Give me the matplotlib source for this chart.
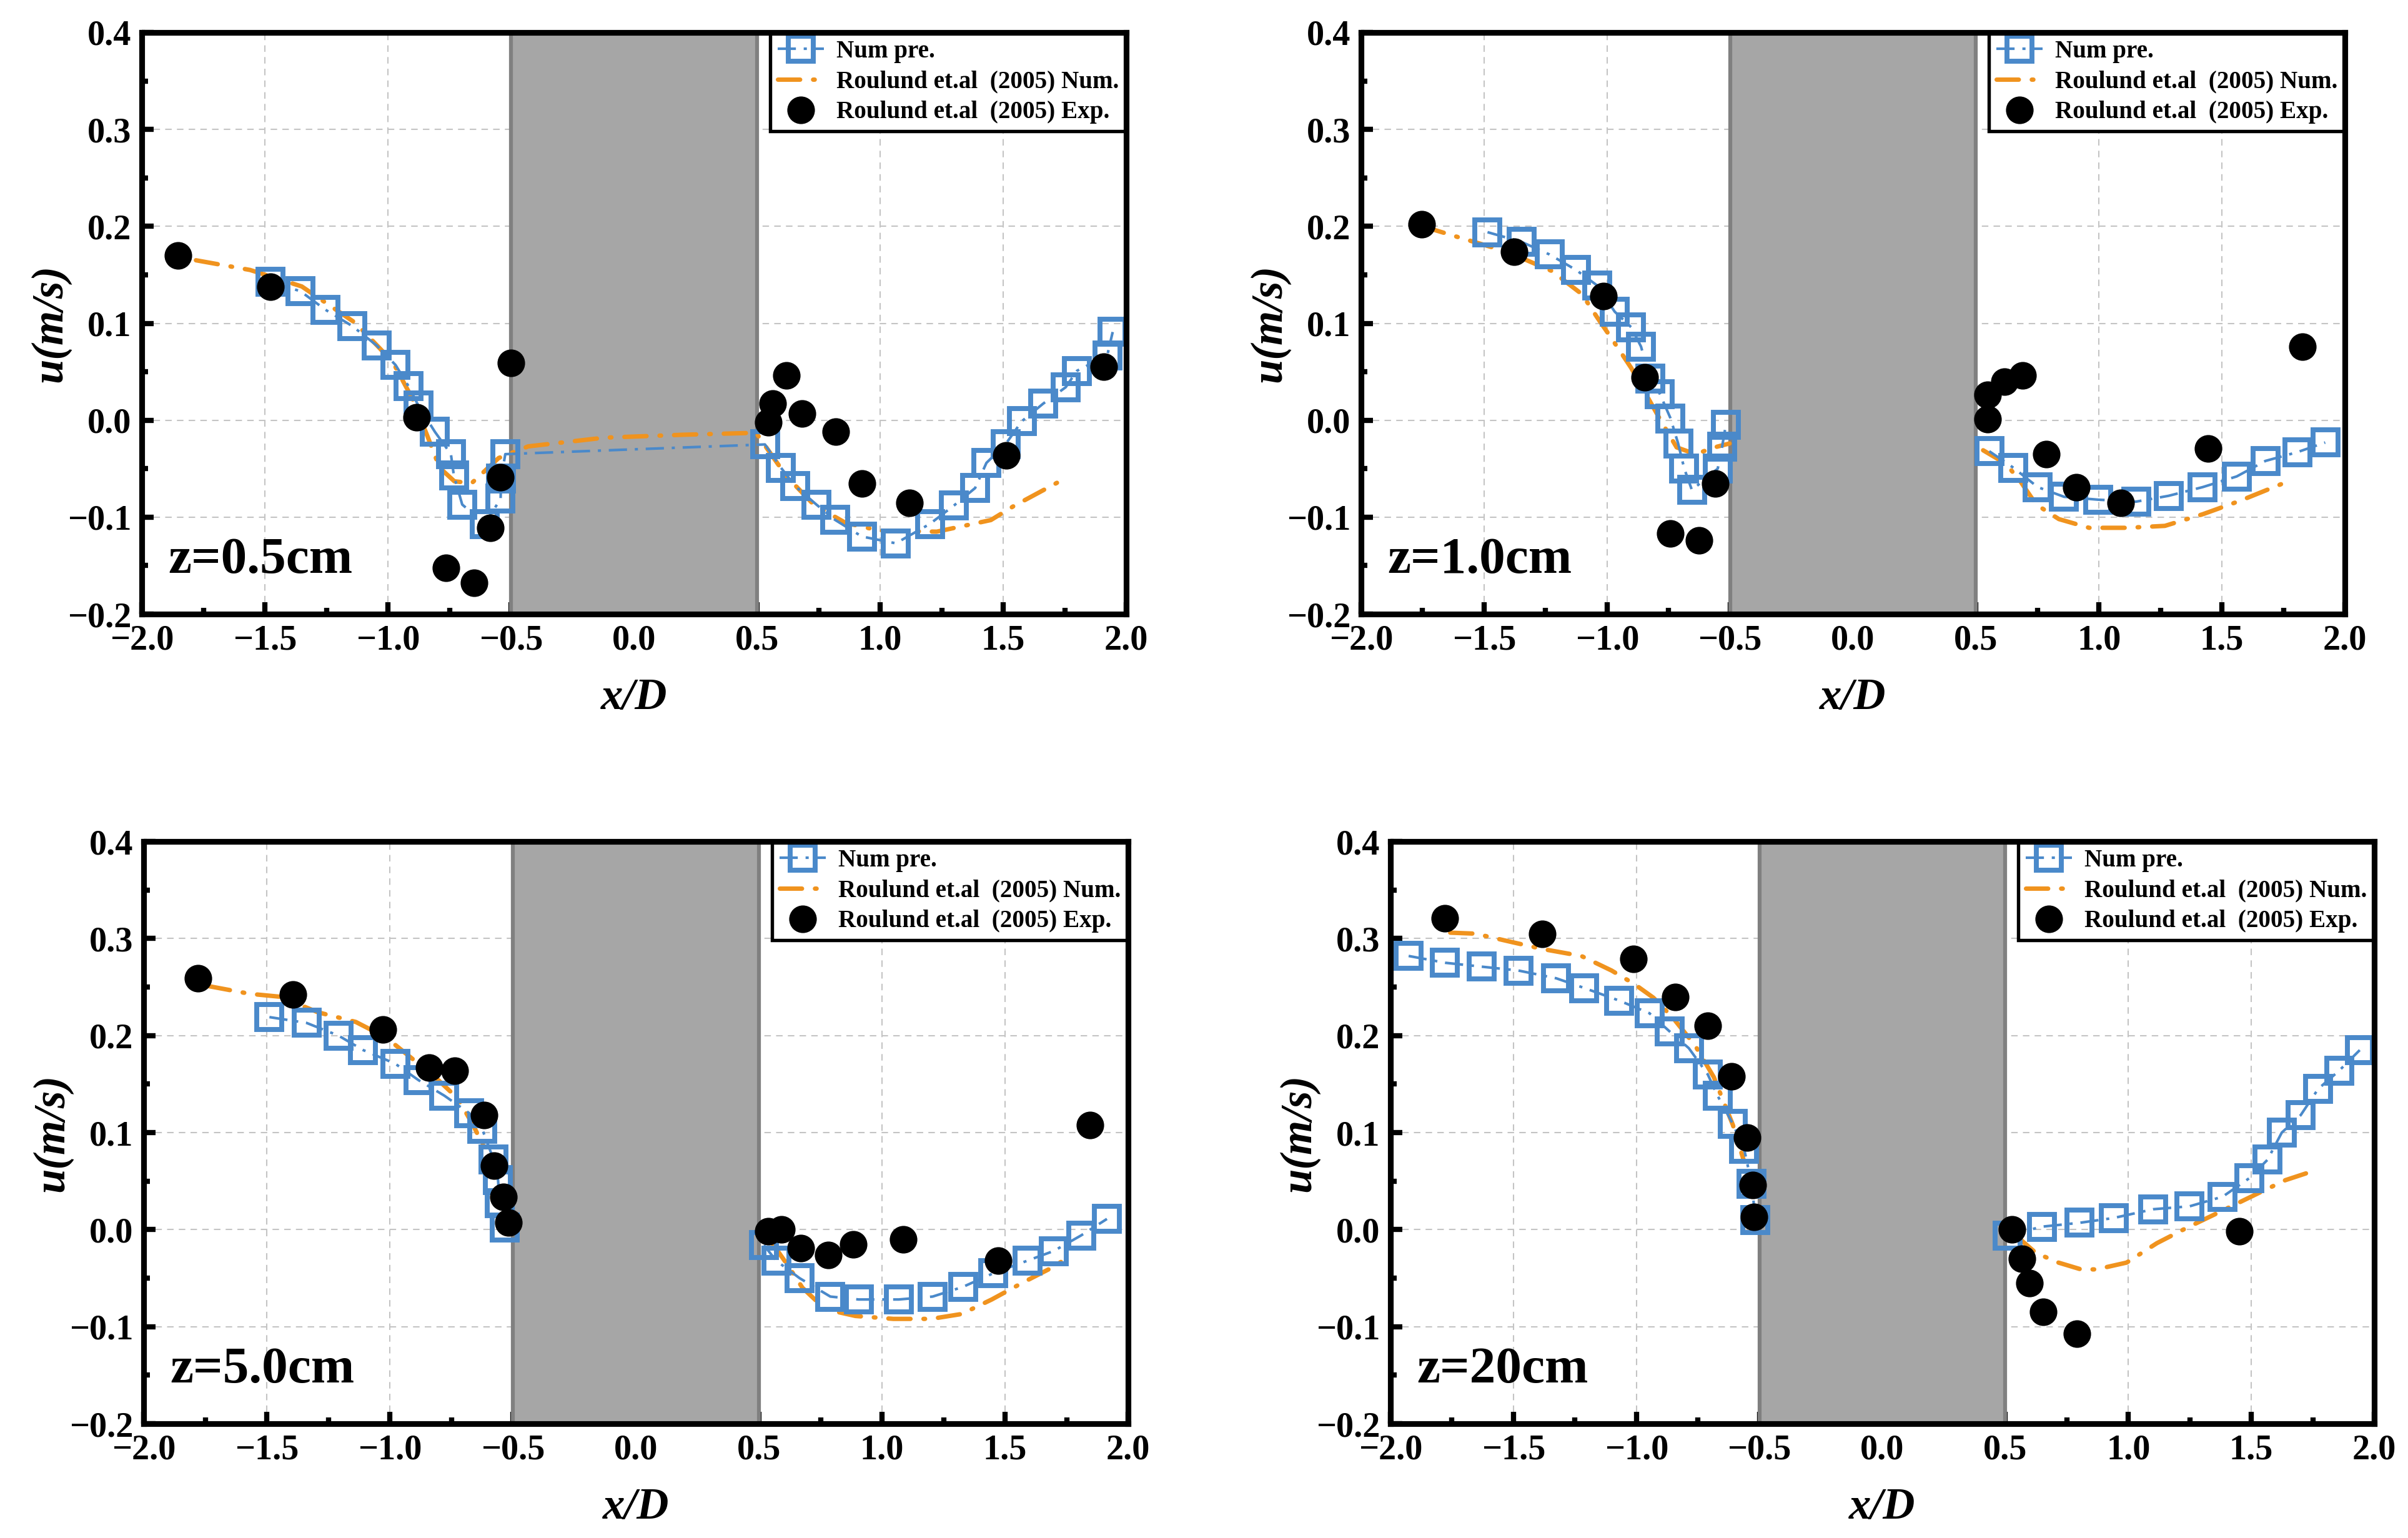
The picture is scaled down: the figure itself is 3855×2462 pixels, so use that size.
import numpy as np
import matplotlib
matplotlib.use("Agg")
import matplotlib.pyplot as plt
from matplotlib.patches import Rectangle
from matplotlib.font_manager import FontProperties

plt.rcParams['font.family'] = ['Liberation Serif', 'DejaVu Serif']
plt.rcParams['font.weight'] = 'bold'
plt.rcParams['lines.scale_dashes'] = False
plt.rcParams['axes.unicode_minus'] = True

BLUE = '#4A89CA'
ORANGE = '#F0931E'

panel_labels = ['z=0.5cm', 'z=1.0cm', 'z=5.0cm', 'z=20cm']
legend_labels = ['Num pre.', 'Roulund et.al  (2005) Num.', 'Roulund et.al  (2005) Exp.']
xtick_labels = ['\u22122.0', '\u22121.5', '\u22121.0', '\u22120.5', '0.0', '0.5', '1.0', '1.5', '2.0']
ytick_labels = ['\u22120.2', '\u22120.1', '0.0', '0.1', '0.2', '0.3', '0.4']

# ---------------- z = 0.5 cm ----------------
exp05_x = [-1.853, -1.478, -0.883, -0.499, -0.542, -0.585, -0.763, -0.649,
           0.545, 0.563, 0.619, 0.683, 0.821, 0.926, 1.119, 1.512, 1.908]
exp05_u = [0.170, 0.138, 0.003, 0.059, -0.059, -0.111, -0.152, -0.168,
           -0.002, 0.017, 0.046, 0.007, -0.012, -0.065, -0.085, -0.036, 0.055]
num05_x = [-1.478, -1.355, -1.254, -1.144, -1.045, -0.969, -0.916, -0.876, -0.809,
           -0.744, -0.732, -0.698, -0.606, -0.542, -0.540, -0.523,
           0.532, 0.597, 0.655, 0.741, 0.818, 0.926, 1.064, 1.202, 1.300, 1.386,
           1.432, 1.509, 1.576, 1.662, 1.754, 1.800, 1.923, 1.945]
num05_u = [0.143, 0.133, 0.114, 0.097, 0.077, 0.057, 0.035, 0.015, -0.012,
           -0.035, -0.057, -0.087, -0.107, -0.081, -0.060, -0.035,
           -0.025, -0.049, -0.068, -0.087, -0.103, -0.120, -0.127, -0.107, -0.088, -0.070,
           -0.044, -0.025, -0.001, 0.017, 0.034, 0.051, 0.067, 0.091]
rou05_x = [-1.78, -1.56, -1.35, -1.13, -0.98, -0.90, -0.84, -0.79, -0.73, -0.66,
           -0.55, -0.43, -0.12, 0.20, 0.496, 0.62, 0.73, 0.86, 1.00, 1.23, 1.45,
           1.54, 1.73]
rou05_u = [0.165, 0.155, 0.138, 0.100, 0.060, 0.022, -0.016, -0.049, -0.063, -0.065,
           -0.039, -0.027, -0.018, -0.015, -0.013, -0.058, -0.087, -0.106, -0.114,
           -0.115, -0.103, -0.089, -0.063]

# ---------------- z = 1.0 cm ----------------
exp10_x = [-1.754, -1.378, -1.015, -0.846, -0.560, -0.742, -0.625,
           0.548, 0.548, 0.615, 0.689, 0.785, 0.908, 1.089, 1.443, 1.828]
exp10_u = [0.202, 0.174, 0.128, 0.044, -0.065, -0.117, -0.124,
           0.026, 0.001, 0.040, 0.046, -0.035, -0.069, -0.085, -0.029, 0.076]
num10_x = [-1.486, -1.348, -1.234, -1.126, -1.040, -0.969, -0.902, -0.862, -0.825,
           -0.785, -0.742, -0.711, -0.686, -0.655, -0.550, -0.532, -0.517,
           np.nan,
           0.554, 0.652, 0.751, 0.858, 0.997, 1.151, 1.283, 1.422, 1.560, 1.677,
           1.806, 1.920]
num10_u = [0.194, 0.184, 0.171, 0.155, 0.139, 0.112, 0.096, 0.076, 0.043,
           0.027, 0.002, -0.024, -0.050, -0.072, -0.050, -0.027, -0.005,
           np.nan,
           -0.032, -0.049, -0.069, -0.079, -0.082, -0.084, -0.078, -0.069, -0.058,
           -0.042, -0.033, -0.023]
rou10_x = [-1.75, -1.594, -1.409, -1.225, -1.102, -1.040, -0.978, -0.902, -0.840,
           -0.778, -0.717, -0.640, -0.563, -0.502,
           np.nan,
           0.529, 0.622, 0.683, 0.745, 0.837, 0.960, 1.114, 1.268, 1.422, 1.575, 1.760]
rou10_u = [0.200, 0.188, 0.174, 0.154, 0.130, 0.106, 0.083, 0.054, 0.026,
           -0.002, -0.028, -0.035, -0.028, -0.024,
           np.nan,
           -0.031, -0.045, -0.064, -0.087, -0.102, -0.111, -0.111, -0.109, -0.097,
           -0.083, -0.064]

# ---------------- z = 5.0 cm ----------------
exp50_x = [-1.778, -1.394, -1.028, -0.840, -0.735, -0.618, -0.575, -0.538, -0.517,
           0.538, 0.591, 0.671, 0.782, 0.883, 1.086, 1.471, 1.846]
exp50_u = [0.259, 0.242, 0.206, 0.167, 0.164, 0.118, 0.066, 0.034, 0.007,
           -0.002, 0.000, -0.019, -0.026, -0.015, -0.010, -0.032, 0.108]
num50_x = [-1.489, -1.338, -1.209, -1.108, -0.978, -0.883, -0.778, -0.677, -0.625,
           -0.578, -0.560, -0.554, -0.532,
           np.nan,
           0.520, 0.570, 0.665, 0.790, 0.905, 1.068, 1.206, 1.329, 1.452, 1.591,
           1.698, 1.809, 1.914]
num50_u = [0.219, 0.213, 0.200, 0.185, 0.171, 0.154, 0.138, 0.120, 0.104,
           0.072, 0.051, 0.027, 0.002,
           np.nan,
           -0.016, -0.032, -0.050, -0.069, -0.072, -0.072, -0.069, -0.059, -0.045,
           -0.032, -0.022, -0.006, 0.011]
rou50_x = [-1.738, -1.569, -1.446, -1.292, -1.138, -1.015, -0.908, -0.815, -0.723,
           -0.662, -0.615, -0.569,
           np.nan,
           0.554, 0.615, 0.677, 0.769, 0.892, 1.046, 1.200, 1.323, 1.446, 1.569,
           1.692, 1.754]
rou50_u = [0.251, 0.243, 0.240, 0.224, 0.214, 0.198, 0.176, 0.157, 0.135,
           0.108, 0.084, 0.055,
           np.nan,
           -0.014, -0.036, -0.060, -0.082, -0.089, -0.092, -0.092, -0.087, -0.072,
           -0.055, -0.039, -0.029]

# ---------------- z = 20 cm ----------------
exp20_x = [-1.778, -1.384, -1.012, -0.842, -0.710, -0.614, -0.550, -0.528, -0.522,
           0.528, 0.568, 0.599, 0.654, 0.790, 1.452]
exp20_u = [0.321, 0.305, 0.279, 0.240, 0.210, 0.158, 0.095, 0.046, 0.013,
           0.000, -0.030, -0.055, -0.085, -0.107, -0.002]
num20_x = [-1.926, -1.778, -1.630, -1.480, -1.326, -1.212, -1.070, -0.947, -0.864,
           -0.787, -0.710, -0.670, -0.608, -0.562, -0.531, -0.516,
           np.nan,
           0.510, 0.648, 0.802, 0.941, 1.101, 1.249, 1.384, 1.492, 1.566, 1.624,
           1.701, 1.772, 1.858, 1.941]
num20_u = [0.282, 0.275, 0.271, 0.267, 0.259, 0.249, 0.236, 0.223, 0.204,
           0.187, 0.160, 0.138, 0.109, 0.083, 0.047, 0.010,
           np.nan,
           -0.006, 0.003, 0.007, 0.012, 0.021, 0.024, 0.034, 0.053, 0.072, 0.100,
           0.118, 0.145, 0.164, 0.185]
rou20_x = [-1.757, -1.655, -1.501, -1.378, -1.224, -1.101, -1.008, -0.931, -0.854,
           -0.762, -0.685, -0.608, -0.562,
           np.nan,
           0.547, 0.624, 0.716, 0.808, 0.870, 0.993, 1.116, 1.239, 1.362, 1.516,
           1.639, 1.747]
rou20_u = [0.306, 0.305, 0.296, 0.289, 0.282, 0.267, 0.253, 0.239, 0.219,
           0.190, 0.157, 0.108, 0.070,
           np.nan,
           -0.007, -0.024, -0.034, -0.041, -0.041, -0.034, -0.014, 0.002, 0.017,
           0.036, 0.051, 0.060]

panels = [
    (num05_x, num05_u, rou05_x, rou05_u, exp05_x, exp05_u),
    (num10_x, num10_u, rou10_x, rou10_u, exp10_x, exp10_u),
    (num50_x, num50_u, rou50_x, rou50_u, exp50_x, exp50_u),
    (num20_x, num20_u, rou20_x, rou20_u, exp20_x, exp20_u),
]

W, H = 3855, 2462
fig = plt.figure(figsize=(W / 300, H / 300), dpi=300)

tick_fp = FontProperties(family='Liberation Serif', weight='bold', size=13.5)
leg_fp = FontProperties(family='Liberation Serif', weight='bold', size=9.4)

# axes boxes in pixels: left, top, right, bottom
boxes = [
    (227, 52, 1803, 983),
    (2179, 52, 3754, 983),
    (230, 1347, 1806, 2279),
    (2226, 1347, 3801, 2279),
]

for i, (box, data) in enumerate(zip(boxes, panels)):
    l, t, r, b = box
    ax = fig.add_axes([l / W, 1 - b / H, (r - l) / W, (b - t) / H])
    nx, nu, rx, ru, ex, eu = data

    ax.set_xlim(-2.0, 2.0)
    ax.set_ylim(-0.2, 0.4)
    ax.set_xticks(np.arange(-2.0, 2.01, 0.5))
    ax.set_yticks(np.arange(-0.2, 0.401, 0.1))
    ax.set_xticks(np.arange(-1.75, 2.0, 0.5), minor=True)
    ax.set_yticks(np.arange(-0.15, 0.4, 0.1), minor=True)
    ax.set_xticklabels(xtick_labels, fontproperties=tick_fp)
    ax.set_yticklabels(ytick_labels, fontproperties=tick_fp)
    ax.grid(True, which='major', color='#c4c4c4', linestyle=(0, (2.5, 2)), lw=0.5, zorder=0)
    ax.set_axisbelow(True)

    ax.tick_params(which='major', direction='in', length=4.5, width=2,
                   pad=4, top=False, right=False)
    ax.tick_params(which='minor', direction='in', length=2.5, width=2,
                   top=False, right=False)
    for sp in ax.spines.values():
        sp.set_linewidth(2.2)
        sp.set_zorder(10)

    ax.add_patch(Rectangle((-0.5, -0.2), 1.0, 0.6, facecolor='#a6a6a6',
                           edgecolor='#808080', lw=1.5, zorder=1))

    ax.plot(nx, nu, color=BLUE, lw=1.0, linestyle=(0, (7, 3, 1.2, 3)),
            marker='s', markersize=9.8, markerfacecolor='none',
            markeredgecolor=BLUE, markeredgewidth=1.9, zorder=4,
            label=legend_labels[0])
    ax.plot(rx, ru, color=ORANGE, lw=1.7, linestyle=(0, (8.5, 5, 0.6, 5)),
            dash_capstyle='round', zorder=3, label=legend_labels[1])
    ax.plot(ex, eu, linestyle='none', marker='o', markersize=9.6,
            color='black', zorder=5, label=legend_labels[2])

    leg = ax.legend(loc='upper right', borderaxespad=0, prop=leg_fp,
                    frameon=True, fancybox=False, framealpha=1, edgecolor='black',
                    handlelength=1.9, handletextpad=0.5, labelspacing=0.3,
                    borderpad=0.3)
    leg.get_frame().set_linewidth(1.3)
    leg.set_zorder(8)

    ax.text(0.027, 0.071, panel_labels[i], transform=ax.transAxes,
            family='Liberation Serif', fontsize=20, fontweight='bold',
            ha='left', va='baseline', zorder=9)

    ax.set_xlabel('x/D', family='Liberation Serif', fontsize=17, fontweight='bold',
                  style='italic', labelpad=8)
    ax.set_ylabel('u(m/s)', family='Liberation Serif', fontsize=17, fontweight='bold',
                  style='italic')
    ax.yaxis.set_label_coords(-0.072, 0.5)

fig.savefig('out.png', dpi=300)
